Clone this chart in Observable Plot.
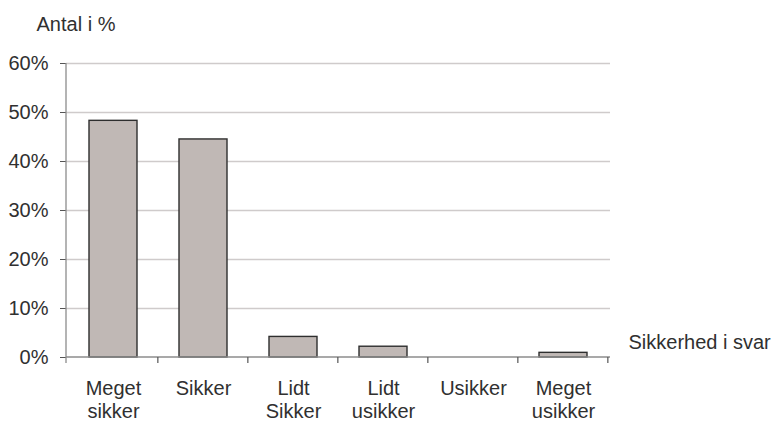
<!DOCTYPE html>
<html>
<head>
<meta charset="utf-8">
<script src="https://cdn.jsdelivr.net/npm/d3@7"></script>
<script src="https://cdn.jsdelivr.net/npm/@observablehq/plot@0.6"></script>
<style>
  html, body { margin: 0; padding: 0; background: #fff; }
  svg { display: block; }
</style>
</head>
<body>
<div id="chart"></div>
<script>
const categories = ["Meget sikker", "Sikker", "Lidt Sikker", "Lidt usikker", "Usikker", "Meget usikker"];
const tickLabels = ["Meget\nsikker", "Sikker", "Lidt\nSikker", "Lidt\nusikker", "Usikker", "Meget\nusikker"];
const values = [48.3, 44.5, 4.2, 2.2, 0, 0.95];
const yTicks = [0, 10, 20, 30, 40, 50, 60];
const yTitle = "Antal i %";
const xTitle = "Sikkerhed i svar";

const data = categories.map((c, i) => ({category: c, value: values[i]}));
const labelOf = new Map(categories.map((c, i) => [c, tickLabels[i]]));

const padInner = 0.47;
const font = "'Liberation Sans', Arial, sans-serif";
const textColor = "#303030";
const fs = 20;

function axesLines(index, scales, values_, dimensions) {
  const x = scales.x, y = scales.y;
  const {width, marginLeft, marginRight} = dimensions;
  const step = x(categories[1]) - x(categories[0]);
  const gap = step * padInner;
  const y0 = y(0);
  const g = d3.create("svg:g");
  g.append("line")
    .attr("x1", marginLeft).attr("x2", width - marginRight)
    .attr("y1", y0).attr("y2", y0)
    .attr("stroke", "#8c8c8c").attr("stroke-width", 1.3);
  g.append("line")
    .attr("x1", marginLeft).attr("x2", marginLeft)
    .attr("y1", y(d3.max(yTicks))).attr("y2", y0 + 6)
    .attr("stroke", "#8c8c8c").attr("stroke-width", 1.3);
  const bounds = categories.map(c => x(c) - gap / 2);
  bounds.push(x(categories[categories.length - 1]) + step - gap / 2);
  bounds.slice(1).forEach(bx => {
    g.append("line")
      .attr("x1", bx).attr("x2", bx)
      .attr("y1", y0).attr("y2", y0 + 6)
      .attr("stroke", "#555").attr("stroke-width", 1.2);
  });
  return g.node();
}

const chart = Plot.plot({
  width: 776,
  height: 421,
  marginLeft: 66,
  marginRight: 166,
  marginTop: 63,
  marginBottom: 64,
  style: {fontFamily: font, fontSize: fs + "px", color: textColor, background: "#fff"},
  x: {domain: categories, paddingInner: padInner, paddingOuter: padInner / 2, label: null},
  y: {domain: [0, 60], label: null},
  marks: [
    Plot.gridY(yTicks.filter(d => d > 0), {stroke: "#cfcbcb", strokeOpacity: 1, strokeWidth: 1.3}),
    Plot.barY(data, {x: "category", y: "value", fill: "#c0b8b5", stroke: "#2e2e2e", strokeWidth: 1.4}),
    Plot.axisY({ticks: yTicks, tickFormat: d => d + "%", tickSize: 6, tickPadding: 12, stroke: "#555", fill: textColor, label: null, fontSize: fs}),
    Plot.axisX({tickSize: 0, tickPadding: 21, tickFormat: d => labelOf.get(d), lineHeight: 1.15, fill: textColor, label: null, fontSize: fs}),
    axesLines,
    Plot.text([yTitle], {frameAnchor: "top-left", text: d => d, textAnchor: "start", lineAnchor: "middle", dx: -30, dy: -39, fill: textColor, fontSize: fs}),
    Plot.text([xTitle], {frameAnchor: "bottom-right", text: d => d, textAnchor: "start", lineAnchor: "middle", dx: 18, dy: -15, fill: textColor, fontSize: fs})
  ]
});
document.getElementById("chart").appendChild(chart);
</script>
</body>
</html>
